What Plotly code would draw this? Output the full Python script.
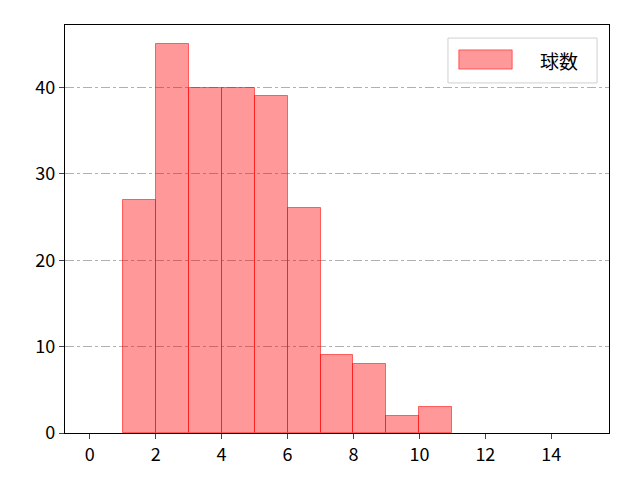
import plotly.graph_objects as go

bin_left = [1, 2, 3, 4, 5, 6, 7, 8, 9, 10]
counts = [27, 45, 40, 40, 39, 26, 9, 8, 2, 3]
series_name = "球数"
x_ticks = [0, 2, 4, 6, 8, 10, 12, 14]
y_ticks = [0, 10, 20, 30, 40]

centers = [b + 0.5 for b in bin_left]
fill = "rgba(255,0,0,0.4)"
edge = "rgba(255,0,0,0.55)"

fig = go.Figure()
fig.add_trace(go.Bar(
    x=centers, y=counts, width=1, name=series_name,
    marker=dict(color=fill, line=dict(color=edge, width=1)),
    showlegend=False,
))

font = dict(family="Noto Sans CJK JP, DejaVu Sans", size=18, color="black")
fig.update_layout(
    width=640, height=480,
    margin=dict(l=57, r=39, t=17, b=55),
    plot_bgcolor="white", paper_bgcolor="white",
    font=font,
    bargap=0,
    xaxis=dict(range=[-0.75, 15.75], tickvals=x_ticks, ticks="outside", ticklen=5, tickwidth=1.3,
               showline=True, linecolor="black", linewidth=1.3, mirror=True,
               showgrid=False, zeroline=False),
    yaxis=dict(range=[0, 47.25], tickvals=y_ticks, ticks="outside", ticklen=5, tickwidth=1.3,
               showline=True, linecolor="black", linewidth=1.3, mirror=True,
               showgrid=True, gridcolor="#b0b0b0", griddash="dashdot", gridwidth=1,
               zeroline=False),
)

# custom legend (box, swatch, label)
fig.add_shape(type="rect", xref="paper", yref="paper", x0=0.704, x1=0.978, y0=0.858, y1=0.968,
              line=dict(color="#d0d0d0", width=1), fillcolor="rgba(255,255,255,0.8)", layer="above")
fig.add_shape(type="rect", xref="paper", yref="paper", x0=0.724, x1=0.822, y0=0.892, y1=0.939,
              line=dict(color=edge, width=1), fillcolor=fill, layer="above")
fig.add_annotation(xref="paper", yref="paper", x=0.9075, y=0.914, text=series_name,
                   showarrow=False, font=dict(size=19), xanchor="center", yanchor="middle")

fig.write_html("out.html")
